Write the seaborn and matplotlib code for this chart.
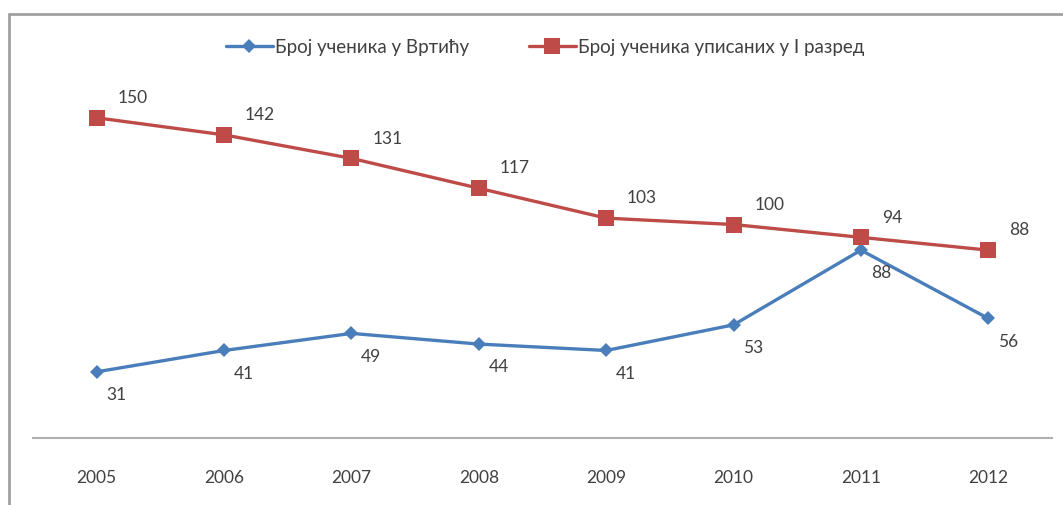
import matplotlib
matplotlib.use("Agg")
import matplotlib.pyplot as plt
from matplotlib.lines import Line2D
import seaborn as sns
import pandas as pd

years = ["2005", "2006", "2007", "2008", "2009", "2010", "2011", "2012"]
vrtic = [31, 41, 49, 44, 41, 53, 88, 56]
upisani = [150, 142, 131, 117, 103, 100, 94, 88]
label_vrtic = "Број ученика у Вртићу"
label_upisani = "Број ученика уписаних у I разред"

sns.set_theme(style="white")
plt.rcParams["font.family"] = ["Lato", "DejaVu Sans"]

blue = "#4A7EBB"
red = "#BE4B48"
text_col = "#404040"

df = pd.DataFrame({
    "pos": list(range(len(years))) * 2,
    "value": vrtic + upisani,
    "series": [label_vrtic] * len(years) + [label_upisani] * len(years),
})

fig = plt.figure(figsize=(10.63, 5.06), dpi=100)
ax = fig.add_axes([33 / 1063, (506 - 439) / 506, (1052 - 33) / 1063, 0.675])

sns.lineplot(data=df, x="pos", y="value", hue="series", style="series",
             palette={label_vrtic: blue, label_upisani: red},
             markers={label_vrtic: "D", label_upisani: "s"},
             dashes=False, linewidth=2.4, markersize=9,
             markeredgewidth=0, ax=ax, legend=True)

for line in ax.lines:
    if line.get_marker() == "s":
        line.set_markersize(11)
    elif line.get_marker() == "D":
        line.set_markersize(7.5)

ax.set_xlim(-0.5, len(years) - 0.5)
ax.set_ylim(0, 160)
ax.set_xticks(range(len(years)))
ax.set_xticklabels(years, fontsize=12.5, color=text_col)
ax.set_yticks([])
ax.set_xlabel("")
ax.set_ylabel("")
ax.tick_params(axis="x", length=0, pad=22)
for s in ["top", "right", "left"]:
    ax.spines[s].set_visible(False)
ax.spines["bottom"].set_color("#b0b0b0")
ax.spines["bottom"].set_linewidth(1.5)

for i, v in enumerate(upisani):
    ax.annotate(str(v), (i, v), xytext=(15, 15), textcoords="offset points",
                ha="left", va="center", fontsize=12.5, color=text_col)
for i, v in enumerate(vrtic):
    ax.annotate(str(v), (i, v), xytext=(7, -16), textcoords="offset points",
                ha="left", va="center", fontsize=12.5, color=text_col)

leg = ax.legend(loc="center", bbox_to_anchor=(545 / 1063, (506 - 48) / 506),
                bbox_transform=fig.transFigure, ncol=2, frameon=False,
                fontsize=13.5, handlelength=2.5, handletextpad=0.1,
                columnspacing=3.2)
for t in leg.get_texts():
    t.set_color(text_col)

fig.add_artist(Line2D([9 / 1063, 9 / 1063], [0, (506 - 15) / 506],
                      transform=fig.transFigure, color="#a0a0a0", lw=2))
fig.add_artist(Line2D([9 / 1063, 1], [(506 - 15) / 506, (506 - 15) / 506],
                      transform=fig.transFigure, color="#a0a0a0", lw=2))

fig.savefig("out.png", dpi=100)
